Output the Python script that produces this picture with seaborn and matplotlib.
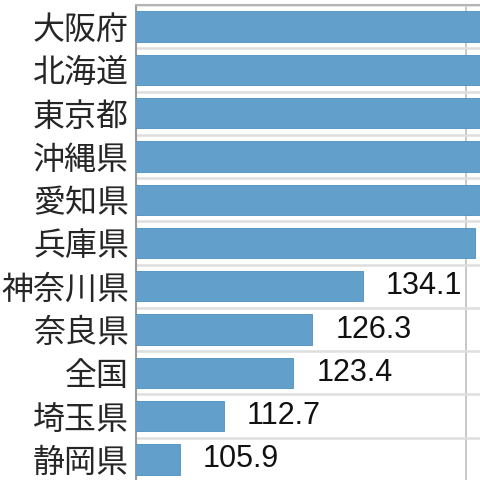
import matplotlib
matplotlib.use("Agg")
import matplotlib.pyplot as plt
import seaborn as sns
import pandas as pd

# prefectures, top to bottom (top five run off the right edge in the reference)
prefs = ["大阪府", "北海道", "東京都", "沖縄県", "愛知県", "兵庫県",
         "神奈川県", "奈良県", "全国", "埼玉県", "静岡県"]
values = [190.0, 180.0, 172.0, 165.0, 158.0, 151.5,
          134.1, 126.3, 123.4, 112.7, 105.9]

df = pd.DataFrame({"pref": prefs, "value": values})

sns.set_style("white")
plt.rcParams["font.family"] = ["Noto Sans CJK JP", "DejaVu Sans"]

fig = plt.figure(figsize=(4.8, 4.8), dpi=100)
# plot area: left axis at x=136px, top border at y=5px, bottom runs just off the image
ax = fig.add_axes([136 / 480, -1 / 480, 1 - 136 / 480, 476 / 480])

sns.barplot(data=df, x="value", y="pref", orient="h", width=0.7,
            color="#62a0cb", saturation=1, edgecolor="#4d8fc2", linewidth=0.6,
            ax=ax, zorder=3)

xmin, xmax = 99.1, 152.2
ax.set_xlim(xmin, xmax)
ax.set_ylim(len(prefs) - 0.5, -0.5)
ax.set_xlabel("")
ax.set_ylabel("")

# vertical gridline at 150, no x labels
ax.set_xticks([150])
ax.tick_params(axis="x", length=0, labelbottom=False)
ax.grid(axis="x", color="#c8c8c8", linewidth=1.4, zorder=0)

# row separators with short ticks to the left of the axis
ax.set_yticks([i - 0.5 for i in range(len(prefs) + 1)], minor=True)
ax.grid(axis="y", which="minor", color="#dedede", linewidth=1.8, zorder=0)
ax.grid(axis="y", which="major", visible=False)
ax.tick_params(axis="y", which="minor", length=5, width=1.5, color="#cfcfcf")
ax.tick_params(axis="y", which="major", length=0, pad=5, labelsize=23)

for side in ["right", "bottom"]:
    ax.spines[side].set_visible(False)
ax.spines["left"].set_color("#9a9a9a")
ax.spines["left"].set_linewidth(1.5)
ax.spines["top"].set_color("#b5b5b5")
ax.spines["top"].set_linewidth(1.5)

# value labels only where they fall inside the visible area
for i, v in enumerate(values):
    if v > xmax - 12:
        continue
    ax.annotate(f"{v:.1f}", xy=(v, i), xytext=(23, 0), textcoords="offset pixels",
                va="center", ha="left", fontsize=22,
                family=["Liberation Sans", "DejaVu Sans"], color="#111111")

fig.savefig("out.png", dpi=100)
